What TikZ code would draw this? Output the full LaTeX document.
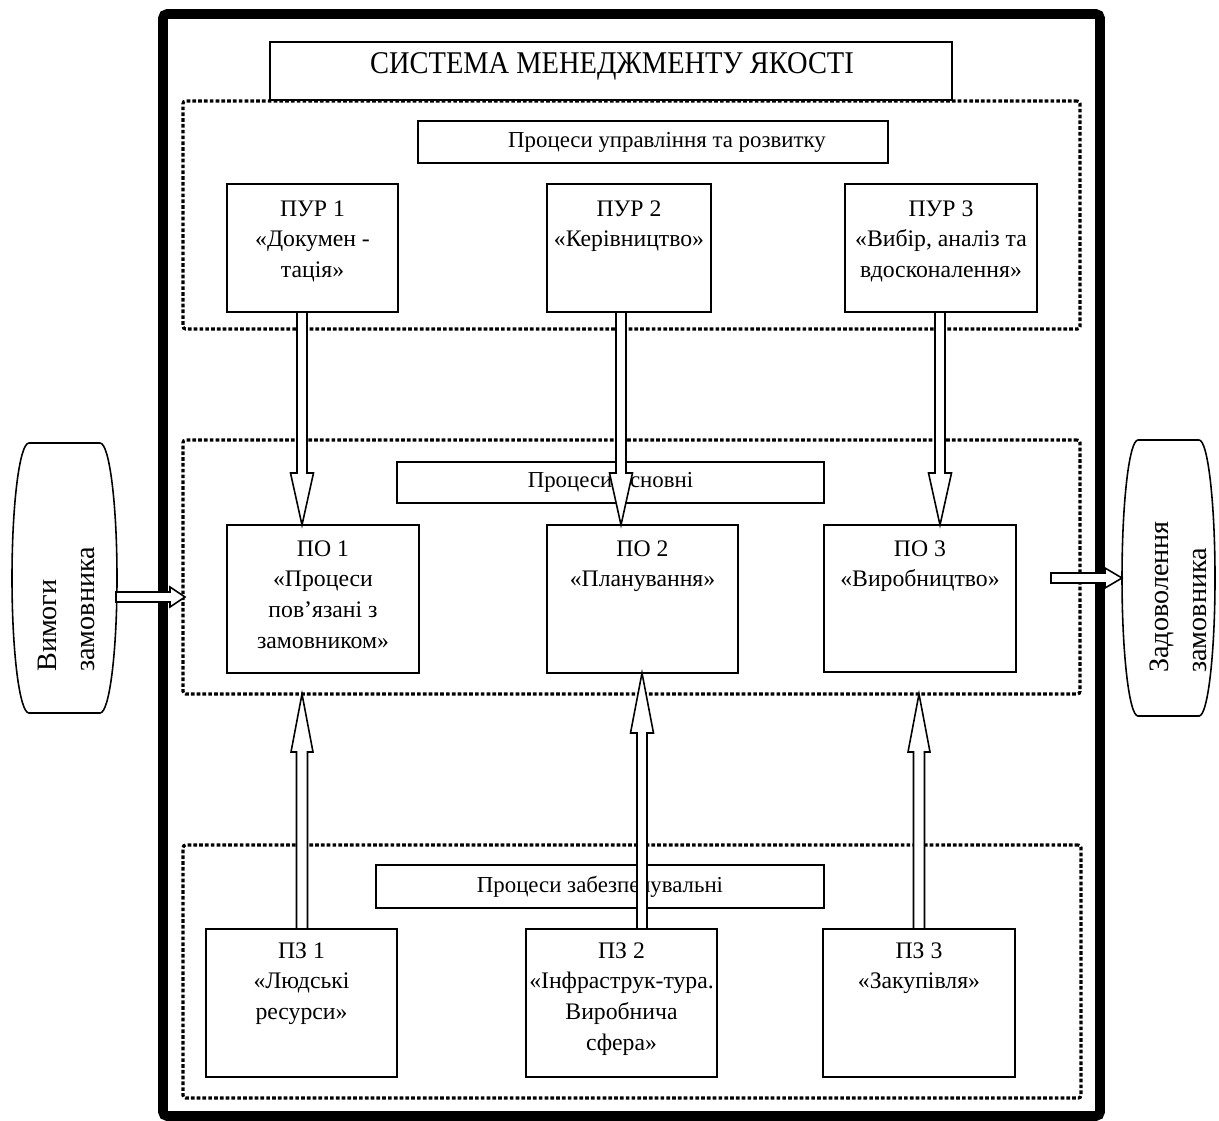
\documentclass[tikz,border=0pt]{standalone}
\usepackage{fontspec}
\setmainfont{Liberation Serif}
\usetikzlibrary{calc}

\tikzset{
  px/.style={x=0.02cm,y=-0.02cm},
  frame/.style={line width=5.6pt, rounded corners=2.5pt},
  group/.style={draw, line width=1.8pt, dash pattern=on 2.1pt off 1.2pt, rounded corners=1.5pt, inner sep=0pt, outer sep=0pt, anchor=north west},
  box/.style={draw, line width=0.9pt, fill=white, inner sep=0pt, outer sep=0pt, anchor=north west},
  boxtext/.style={anchor=north, align=center, inner sep=0pt, font=\fontsize{13.5}{17.5}\selectfont},
  headtext/.style={inner sep=0pt, font=\fontsize{13}{16}\selectfont},
  titletext/.style={inner sep=0pt, font=\fontsize{18}{21}\selectfont},
  sidetext/.style={rotate=90, anchor=north west, align=left, inner sep=0pt, font=\fontsize{16}{21.5}\selectfont},
  sideshape/.style={draw, line width=0.9pt, fill=white},
  blockarrow/.style={draw, line width=0.9pt, fill=white, line join=miter},
}

\newcommand{\pxbox}[6][box]{\node[#1, minimum width={(#5-#3)*0.02cm}, minimum height={(#6-#4)*0.02cm}] (#2) at (#3,#4) {};}
\newcommand{\blockarrow}[5]{%
  \coordinate (bh) at ($(#2)!{#5*0.02cm}!(#1)$);%
  \draw[blockarrow] ($(#1)!{#3*0.02cm}!90:(#2)$) -- ($(bh)!{#3*0.02cm}!90:(#2)$) -- ($(bh)!{#4*0.02cm}!90:(#2)$) -- (#2) -- ($(bh)!{#4*0.02cm}!-90:(#2)$) -- ($(bh)!{#3*0.02cm}!-90:(#2)$) -- ($(#1)!{#3*0.02cm}!-90:(#2)$) -- cycle;}

\begin{document}
\begin{tikzpicture}[px]%
\useasboundingbox (0,0) rectangle (1219,1120);%
\draw[frame] (163,14) rectangle (1100,1116);%
\pxbox[group]{gtop}{183}{101}{1080}{329}%
\pxbox[group]{gmid}{183}{440}{1080}{694}%
\pxbox[group]{gbot}{183}{845}{1081}{1098}%
\pxbox{title}{270}{42}{952}{100}%
\node[titletext] (titletxt) at (612,66) {\scalebox{0.9}[1]{СИСТЕМА МЕНЕДЖМЕНТУ ЯКОСТІ}};%
\pxbox{sub1}{418}{121}{888}{163}%
\node[headtext] (sub1txt) at ($(sub1.center)+(14,0)$) {Процеси управління та розвитку};%
\pxbox{pur1}{227}{184}{398}{312}%
\pxbox{pur2}{547}{184}{711}{312}%
\pxbox{pur3}{845}{184}{1037}{312}%
\node[boxtext] (pur1txt) at ($(pur1.north)+(0,16)$) {ПУР 1\\«Докумен -\\тація»};%
\node[boxtext] (pur2txt) at ($(pur2.north)+(0,16)$) {ПУР 2\\«Керівництво»};%
\node[boxtext] (pur3txt) at ($(pur3.north)+(0,16)$) {ПУР 3\\«Вибір, аналіз та\\вдосконалення»};%
\pxbox{sub2}{397}{462}{824}{503}%
\node[headtext] (sub2txt) at (sub2.center) {Процеси основні};%
\pxbox{po1}{227}{525}{419}{673}%
\pxbox{po2}{547}{525}{738}{673}%
\pxbox{po3}{824}{525}{1016}{672}%
\node[boxtext] (po1txt) at ($(po1.north)+(0,15)$) {ПО 1\\«Процеси\\пов’язані з\\замовником»};%
\node[boxtext] (po2txt) at ($(po2.north)+(0,15)$) {ПО 2\\«Планування»};%
\node[boxtext] (po3txt) at ($(po3.north)+(0,15)$) {ПО 3\\«Виробництво»};%
\pxbox{sub3}{376}{865}{824}{908}%
\node[headtext] (sub3txt) at (sub3.center) {Процеси забезпечувальні};%
\pxbox{pz1}{206}{929}{397}{1077}%
\pxbox{pz2}{526}{929}{717}{1077}%
\pxbox{pz3}{823}{929}{1015}{1077}%
\node[boxtext] (pz1txt) at ($(pz1.north)+(0,13)$) {ПЗ 1\\«Людські\\ресурси»};%
\node[boxtext] (pz2txt) at ($(pz2.north)+(0,13)$) {ПЗ 2\\«Інфраструк-тура.\\Виробнича\\сфера»};%
\node[boxtext] (pz3txt) at ($(pz3.north)+(0,13)$) {ПЗ 3\\«Закупівля»};%
\draw[sideshape] (29,443) -- (100,443) .. controls (109.4,443) and (117,503.5) .. (117,578) .. controls (117,652.5) and (109.4,713) .. (100,713) -- (29,713) .. controls (19.6,713) and (12,652.5) .. (12,578) .. controls (12,503.5) and (19.6,443) .. (29,443) -- cycle;%
\node[sidetext] (req) at (38,672) {Вимоги\\замовника};%
\draw[sideshape] (1138,440) -- (1199,440) .. controls (1207.8,440) and (1215,501.8) .. (1215,578) .. controls (1215,654.2) and (1207.8,716) .. (1199,716) -- (1138,716) .. controls (1129.2,716) and (1122,654.2) .. (1122,578) .. controls (1122,501.8) and (1129.2,440) .. (1138,440) -- cycle;%
\node[sidetext] (sat) at (1150,673) {Задоволення\\замовника};%
\coordinate (d1a) at ($(pur1.south)+(-10.5,0)$);%
\coordinate (d1b) at (d1a |- po1.north);%
\coordinate (d2a) at ($(pur2.south)+(-8,0)$);%
\coordinate (d2b) at (d2a |- po2.north);%
\coordinate (d3a) at ($(pur3.south)+(-1,0)$);%
\coordinate (d3b) at (d3a |- po3.north);%
\coordinate (u1a) at ($(pz1.north)+(0.5,0)$);%
\coordinate (u1b) at (u1a |- gmid.south);%
\coordinate (u2a) at ($(pz2.north)+(20.5,0)$);%
\coordinate (u2b) at (u2a |- po2.south);%
\coordinate (u3a) at (pz3.north);%
\coordinate (u3b) at (u3a |- gmid.south);%
\coordinate (reqR) at (116,597);%
\coordinate (reqB) at ($(reqR -| gmid.west)+(2,0)$);%
\coordinate (po3R) at (1051,578);%
\coordinate (satL) at (1122,578);%
\blockarrow{d1a}{d1b}{5}{11.5}{52}%
\blockarrow{d2a}{d2b}{5}{11.5}{52}%
\blockarrow{d3a}{d3b}{5}{11.5}{52}%
\blockarrow{u1a}{u1b}{5.5}{11}{58}%
\blockarrow{u2a}{u2b}{5}{11.5}{60}%
\blockarrow{u3a}{u3b}{5.5}{11}{58}%
\blockarrow{reqR}{reqB}{5}{10}{15}%
\blockarrow{po3R}{satL}{5}{10}{17}%
\end{tikzpicture}
\end{document}
